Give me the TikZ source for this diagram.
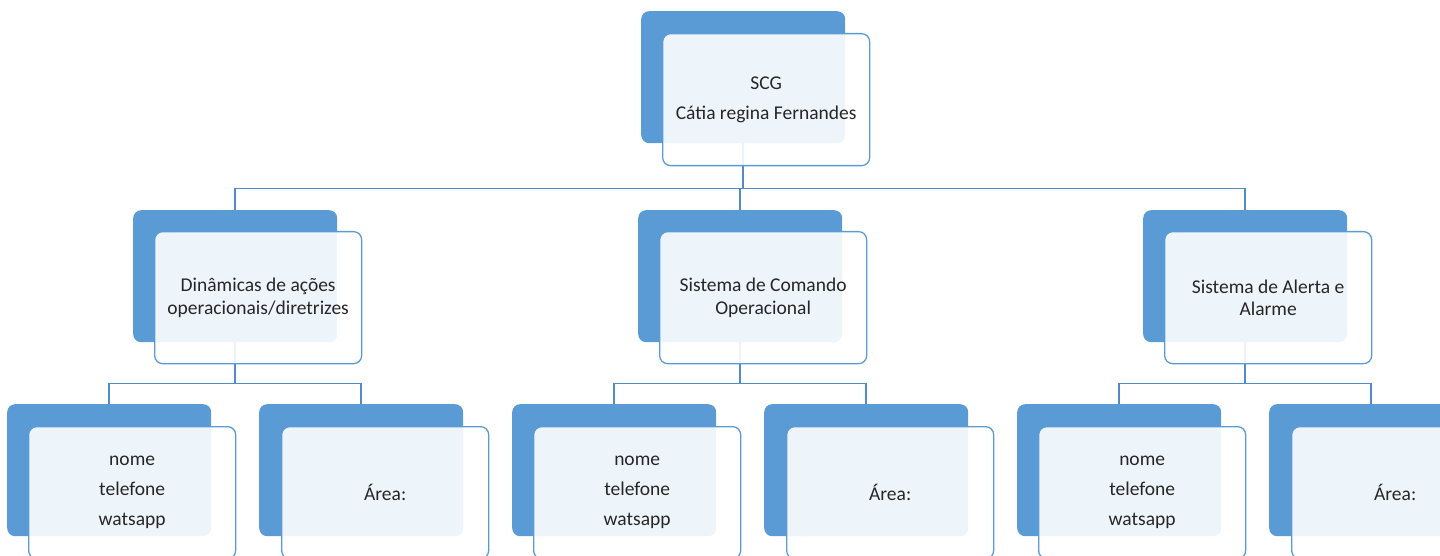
\documentclass[tikz,border=0pt]{standalone}
\usepackage{fontspec}
\setmainfont{Carlito}
\definecolor{boxblue}{RGB}{91,155,213}
\definecolor{lineblue}{RGB}{82,140,200}
\definecolor{txt}{RGB}{38,38,38}
\tikzset{
  backbox/.style={rectangle, rounded corners=8pt, fill=boxblue,
    minimum width=204pt, minimum height=132pt, inner sep=0pt, anchor=north west},
  frontbox/.style={rectangle, rounded corners=8pt, draw=boxblue, line width=1.3pt,
    fill=white, fill opacity=0.9, text opacity=1, text=txt,
    minimum width=207pt, minimum height=132pt, inner sep=2pt, anchor=north west,
    align=center, font=\fontsize{19.5}{30}\selectfont},
  wrapped/.style={font=\fontsize{19.5}{22.5}\selectfont},
  conn/.style={draw=lineblue, line width=1.5pt}
}
\begin{document}
\begin{tikzpicture}[x=1pt, y=-1pt]
\useasboundingbox (0,0) rectangle (1440,556);
\clip (0,0) rectangle (1440,556);

% back (blue) boxes
\node[backbox] (b0) at (641,11) {};
\node[backbox] (b1) at (133,210) {};
\node[backbox] (b2) at (638,210) {};
\node[backbox] (b3) at (1143,210) {};
\node[backbox] (b11) at (7,404) {};
\node[backbox] (b12) at (259,404) {};
\node[backbox] (b21) at (512,404) {};
\node[backbox] (b22) at (764,404) {};
\node[backbox] (b31) at (1017,404) {};
\node[backbox] (b32) at (1269,404) {};

% connectors
\draw[conn] (b0.south) -- ++(0,45) -| (b1.north);
\draw[conn] (b0.south) -- ++(0,45) -| (b2.north);
\draw[conn] (b0.south) -- ++(0,45) -| (b3.north);
\draw[conn] (b1.south) -- ++(0,41) -| (b11.north);
\draw[conn] (b1.south) -- ++(0,41) -| (b12.north);
\draw[conn] (b2.south) -- ++(0,41) -| (b21.north);
\draw[conn] (b2.south) -- ++(0,41) -| (b22.north);
\draw[conn] (b3.south) -- ++(0,41) -| (b31.north);
\draw[conn] (b3.south) -- ++(0,41) -| (b32.north);

% front (text) boxes
\node[frontbox] (f0) at (662,33) {SCG\\Cátia regina Fernandes};
\node[frontbox, wrapped] (f1) at (154,231) {Dinâmicas de ações\\operacionais/diretrizes};
\node[frontbox, wrapped] (f2) at (659,231) {Sistema de Comando\\Operacional};
\node[frontbox, wrapped] (f3) at (1164,231) {Sistema de Alerta e\\Alarme};
\node[frontbox] (f11) at (28,426) {nome\\telefone\\watsapp};
\node[frontbox] (f12) at (281,426) {Área:};
\node[frontbox] (f21) at (533,426) {nome\\telefone\\watsapp};
\node[frontbox] (f22) at (786,426) {Área:};
\node[frontbox] (f31) at (1038,426) {nome\\telefone\\watsapp};
\node[frontbox] (f32) at (1291,426) {Área:};
\end{tikzpicture}
\end{document}
